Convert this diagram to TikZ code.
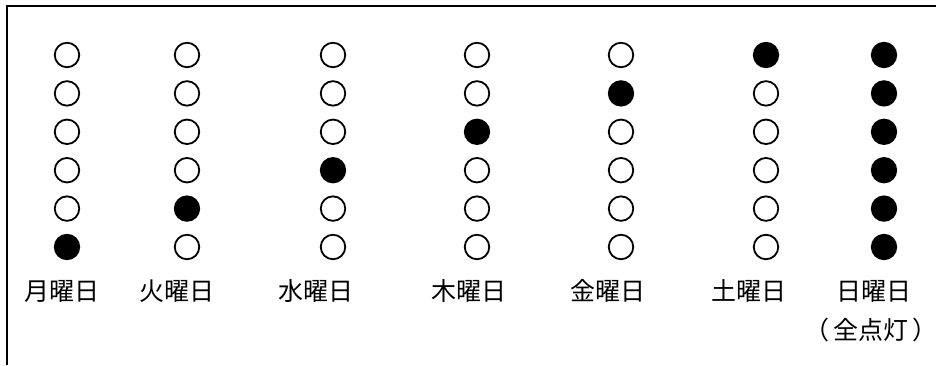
\documentclass[tikz,border=0pt]{standalone}
\usepackage{fontspec}
\setmainfont{Noto Sans CJK JP}
\usepackage{tikz}
\usetikzlibrary{positioning}
\tikzset{%
    % style for a lamp that is off
    lamp off/.style={%
        draw=black,
        line width=1.8pt,
        fill=white,
        shape=circle,
        inner sep=0pt,
        minimum size=24.5pt,
    },
    % style for a lamp that is lit
    lamp on/.style={%
        lamp off,
        fill=black,
    },
    % style for the day names
    day label/.style={%
        inner sep=0pt,
        font=\fontsize{25}{30}\selectfont,
    },
    % style for the frame
    frame/.style={%
        line width=2pt,
    },
}
\begin{document}
\begin{tikzpicture}[x=1pt, y=-1pt]
    % one pt for one pixel of the reference
    \useasboundingbox (0,0) rectangle (936,365);
    % frame, only top and left edges are seen
    \draw [frame] (7,365) -- (7,6) -- (936,6);
    % rows: 1 is the lowest lamp
    \def\toprow{55}
    \def\rowstep{38.4}
    %% columns: name / x / lit lamp (7 = all)
    \foreach \day/\cx/\lit in {mon/67/1, tue/187/2, wed/333/3, thu/477/4,
                               fri/621/5, sat/766/6, sun/884/7}{%
        \foreach \row in {1,...,6}{%
            \pgfmathsetmacro{\cy}{\toprow+(6-\row)*\rowstep}
            \ifnum\lit=7
                \node (\day-\row) [lamp on] at (\cx,\cy) {};
            \else\ifnum\lit=\row
                \node (\day-\row) [lamp on] at (\cx,\cy) {};
            \else
                \node (\day-\row) [lamp off] at (\cx,\cy) {};
            \fi\fi
        }
    }
    % day names
    \node (mon) [day label] at (62,291) {月曜日};
    \node (tue) [day label] at (177,291) {火曜日};
    \node (wed) [day label] at (316,291) {水曜日};
    \node (thu) [day label] at (469,291) {木曜日};
    \node (fri) [day label] at (608,291) {金曜日};
    \node (sat) [day label] at (749,291) {土曜日};
    \node (sun) [day label] at (874,291) {日曜日};
    %% all lamps lit on sunday
    \node (all) [day label] at (871,330) {（\,全点灯\,）};
\end{tikzpicture}
\end{document}
